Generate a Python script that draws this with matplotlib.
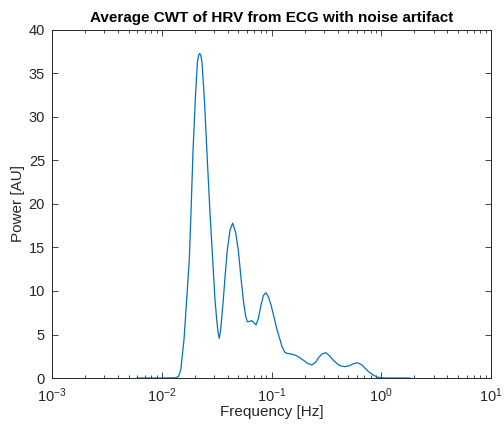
import matplotlib
matplotlib.use("Agg")
import matplotlib.pyplot as plt
from matplotlib.ticker import LogLocator, FixedLocator

freq_hz = [0.00595, 0.00964, 0.0132, 0.01416, 0.01489, 0.01595, 0.01687, 0.01782,
           0.01847, 0.01926, 0.02030, 0.02117, 0.02167, 0.02217, 0.02269, 0.02326,
           0.02452, 0.02600,
           0.02751, 0.02949, 0.03056, 0.03168, 0.03255, 0.03345, 0.03445, 0.0354,
           0.03637, 0.03793, 0.03956, 0.04187, 0.04430, 0.04699, 0.04983, 0.05274,
           0.05534, 0.05796, 0.06019, 0.06303, 0.06601, 0.06927, 0.07226, 0.07611,
           0.08021, 0.08453, 0.08913, 0.09391, 0.09894, 0.1054, 0.1115, 0.1183,
           0.1247, 0.1314, 0.1376, 0.1475, 0.1637, 0.1780, 0.1949, 0.2128, 0.2324,
           0.2518, 0.2709, 0.2915, 0.3137, 0.3377, 0.3657, 0.3952, 0.4298, 0.4673,
           0.5083, 0.5528, 0.6050, 0.6677, 0.7368, 0.7898, 0.8465, 0.9147, 0.9741,
           1.082, 1.335, 1.828]
power_au = [0.0, 0.0, 0.02, 0.15, 0.9, 4.4, 9.0, 13.6,
            19.0, 26.0, 32.5, 36.4, 37.1, 37.3, 37.1, 36.3,
            31.8, 25.1,
            19.0, 12.4, 9.0, 6.7, 5.3, 4.56, 5.6, 7.3,
            9.0, 12.0, 14.7, 17.0, 17.8, 16.8, 14.7, 11.5,
            9.0, 7.2, 6.47, 6.5, 6.6, 6.35, 6.1, 6.9,
            8.4, 9.5, 9.8, 9.3, 8.4, 7.0, 5.7, 4.6,
            3.6, 3.0, 2.84, 2.78, 2.64, 2.4, 2.05, 1.7, 1.5,
            1.8, 2.4, 2.8, 2.9, 2.55, 2.05, 1.65, 1.38, 1.3,
            1.4, 1.62, 1.76, 1.5, 0.92, 0.6, 0.34, 0.12, 0.05,
            0.0, 0.0, 0.0]

y_ticks = [0, 5, 10, 15, 20, 25, 30, 35, 40]
x_major = [1e-3, 1e-2, 1e-1, 1e0, 1e1]
x_tick_labels = [r'$10^{-3}$', r'$10^{-2}$', r'$10^{-1}$', r'$10^{0}$', r'$10^{1}$']

plt.rcParams['font.family'] = ['Liberation Sans', 'DejaVu Sans']
plt.rcParams['mathtext.fontset'] = 'custom'
plt.rcParams['mathtext.rm'] = 'Liberation Sans'
plt.rcParams['mathtext.it'] = 'Liberation Sans:italic'

grey = (0.15, 0.15, 0.15)
fig = plt.figure(figsize=(5.04, 4.24), dpi=100)
ax = fig.add_axes([52/504, 46/424, 439/504, 348/424])
ax.plot(freq_hz, power_au, color=(0.0, 0.447, 0.741), lw=0.9)
ax.set_xscale('log')
ax.set_xlim(1e-3, 1e1)
ax.set_ylim(0, 40)
ax.xaxis.set_major_locator(FixedLocator(x_major))
ax.set_xticklabels(x_tick_labels)
ax.xaxis.set_minor_locator(LogLocator(base=10, subs=range(2, 10), numticks=20))
ax.set_yticks(y_ticks)
ax.tick_params(which='both', direction='in', top=True, right=True, colors=grey,
               labelsize=10.5, width=0.6)
ax.tick_params(which='major', length=4)
ax.tick_params(which='minor', length=2.5)
ax.tick_params(axis='x', which='major', pad=6)
ax.tick_params(axis='y', which='major', pad=5)
for s in ax.spines.values():
    s.set_color(grey)
    s.set_linewidth(0.7)
ax.set_xlabel('Frequency [Hz]', fontsize=11, color=grey, labelpad=0)
ax.set_ylabel('Power [AU]', fontsize=11, color=grey, labelpad=3)
ax.set_title('Average CWT of HRV from ECG with noise artifact', fontsize=11,
             fontweight='bold', color='black', pad=6)
fig.savefig('out.png', dpi=100)
